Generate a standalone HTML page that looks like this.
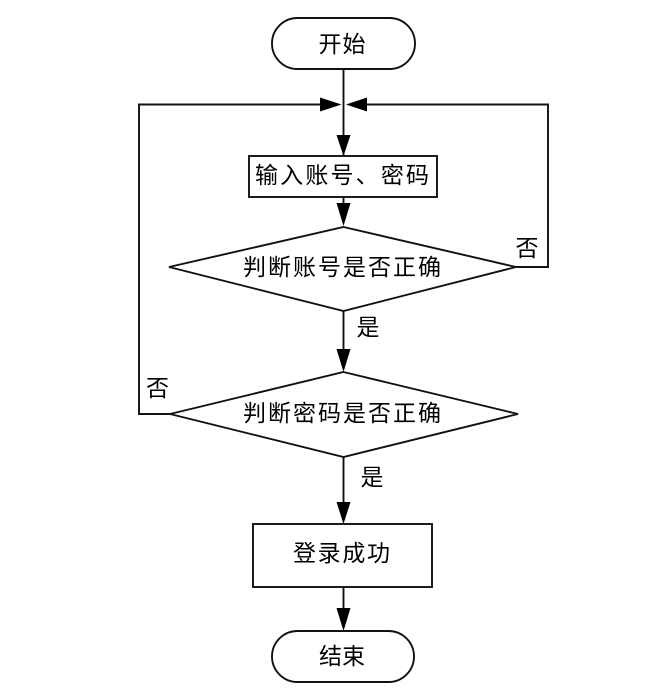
<!DOCTYPE html>
<html lang="zh">
<head>
<meta charset="utf-8">
<style>
html,body{margin:0;padding:0;background:#fff;width:656px;height:696px;overflow:hidden}
svg{display:block;filter:blur(0.35px)}
text{font-family:"Liberation Sans","WenQuanYi Zen Hei","Noto Sans CJK SC",sans-serif;fill:#000;font-size:23px;text-anchor:middle}
.s{fill:#fff;stroke:#111;stroke-width:1.9}
.l{fill:none;stroke:#111;stroke-width:1.9}
.a{fill:#000;stroke:none}
</style>
</head>
<body>
<svg width="656" height="696" viewBox="0 0 656 696" xmlns="http://www.w3.org/2000/svg">
<rect class="s" x="272" y="18" width="143" height="51" rx="25.5" ry="25.5"/>
<rect class="s" x="272" y="631" width="142" height="51" rx="25.5" ry="25.5"/>
<rect class="s" x="249" y="156" width="188" height="41"/>
<rect class="s" x="253" y="524" width="179" height="63"/>
<polygon class="s" points="343.5,227 516,267 343.5,311 169,267"/>
<polygon class="s" points="343.5,372 518,414 343.5,457 170,414"/>
<path class="l" d="M343.500 69V156M343.500 197V206M343.500 311V352M343.500 457V503M343.500 587V610"/>
<path class="l" d="M170 414H139V104.500H322M516 267H548V104.500H364"/>
<polygon class="a" points="320,97.500 341.500,104.500 320,111.500"/>
<polygon class="a" points="367,97.500 346,104.500 367,111.500"/>
<polygon class="a" points="336.500,135 350.500,135 343.500,156"/>
<polygon class="a" points="336.500,203 350.500,203 343.500,226"/>
<polygon class="a" points="336.500,349 350.500,349 343.500,372"/>
<polygon class="a" points="336.500,502 350.500,502 343.500,524"/>
<polygon class="a" points="336.500,608 350.500,608 343.500,631"/>
<text x="342" y="52" textLength="47" lengthAdjust="spacing">开始</text>
<text x="342" y="183" textLength="174" lengthAdjust="spacing">输入账号、密码</text>
<text x="342" y="275" textLength="198" lengthAdjust="spacing">判断账号是否正确</text>
<text x="342" y="421" textLength="198" lengthAdjust="spacing">判断密码是否正确</text>
<text x="341.500" y="561" textLength="97" lengthAdjust="spacing">登录成功</text>
<text x="342" y="664" textLength="46" lengthAdjust="spacing">结束</text>
<text x="527" y="256">否</text>
<text x="157.500" y="396">否</text>
<text x="368" y="335">是</text>
<text x="372" y="485">是</text>
</svg>
</body>
</html>
